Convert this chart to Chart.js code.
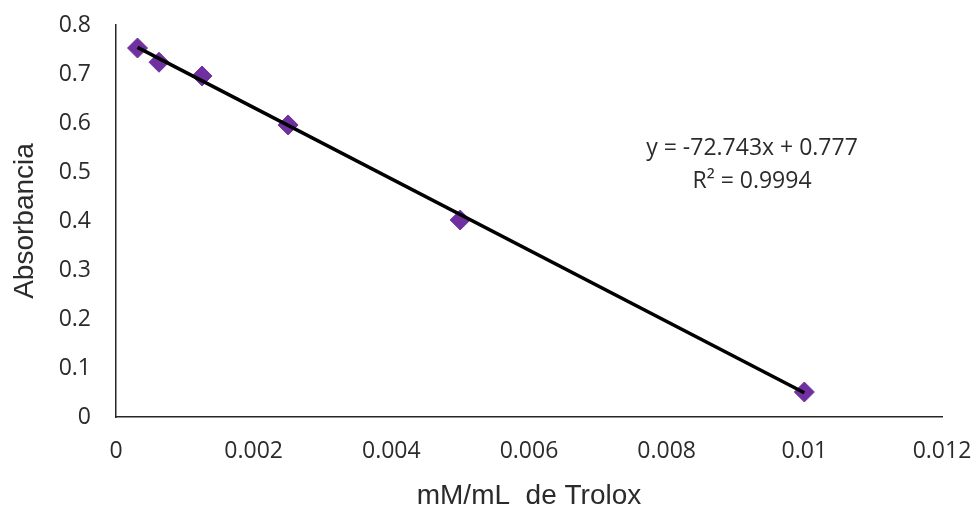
<!DOCTYPE html>
<html>
<head>
<meta charset="utf-8">
<script src="https://cdn.jsdelivr.net/npm/chart.js@4.4.1/dist/chart.umd.min.js"></script>
<style>
  html, body { margin: 0; padding: 0; background: #ffffff; }
  #wrap { width: 976px; height: 508px; position: relative; }
</style>
</head>
<body>
<div id="wrap"><canvas id="c" width="976" height="508"></canvas></div>
<script>
// Trolox concentration (mM/mL) and measured absorbance
const concentrations = [0.0003125, 0.000625, 0.00125, 0.0025, 0.005, 0.01];
const absorbances    = [0.753, 0.724, 0.696, 0.596, 0.402, 0.051];

// Axis tick labels
const xTickLabels = ['0', '0.002', '0.004', '0.006', '0.008', '0.01', '0.012'];
const yTickLabels = ['0', '0.1', '0.2', '0.3', '0.4', '0.5', '0.6', '0.7', '0.8'];

// Linear fit as reported on the chart
const slope = -72.743;
const intercept = 0.777;
const equationLines = ['y = -72.743x + 0.777', 'R\u00B2 = 0.9994'];

const xMin = concentrations[0];
const xMax = concentrations[concentrations.length - 1];
const trendPoints = [
  { x: xMin, y: slope * xMin + intercept },
  { x: xMax, y: slope * xMax + intercept }
];
const scatterPoints = concentrations.map((x, i) => ({ x, y: absorbances[i] }));

const FONT = "'Open Sans', 'Liberation Sans', sans-serif";
const TITLE_FONT = "'Liberation Sans', Arial, sans-serif";
const TEXT = '#2b2b2b';

const equationPlugin = {
  id: 'equationLabel',
  afterDatasetsDraw(chart) {
    const { ctx, chartArea } = chart;
    const cx = chartArea.left + chartArea.width * 0.77;
    const y0 = chartArea.top + chartArea.height * 0.314;
    const y1 = chartArea.top + chartArea.height * 0.40;
    ctx.save();
    ctx.fillStyle = TEXT;
    ctx.font = "23px " + FONT;
    ctx.textAlign = 'center';
    ctx.textBaseline = 'middle';
    ctx.fillText(equationLines[0], cx, y0);
    ctx.fillText(equationLines[1], cx, y1);
    ctx.restore();
  }
};

new Chart(document.getElementById('c'), {
  type: 'scatter',
  data: {
    datasets: [
      {
        type: 'line',
        data: trendPoints,
        borderColor: '#000000',
        borderWidth: 3.5,
        pointRadius: 0,
        fill: false,
        order: 0
      },
      {
        data: scatterPoints,
        pointStyle: 'rectRot',
        pointRadius: 10,
        pointHoverRadius: 10,
        backgroundColor: '#7030A0',
        borderColor: '#7030A0',
        borderWidth: 1,
        order: 1
      }
    ]
  },
  options: {
    responsive: false,
    animation: false,
    events: [],
    layout: { padding: { top: 25, right: 34, left: 0, bottom: 0 } },
    plugins: {
      legend: { display: false },
      tooltip: { enabled: false }
    },
    scales: {
      x: {
        type: 'linear',
        min: 0,
        max: 0.012,
        grid: { display: false, drawTicks: false },
        border: { display: true, color: '#262626', width: 1.5 },
        ticks: {
          stepSize: 0.002,
          padding: 21,
          color: TEXT,
          font: { family: FONT, size: 23 },
          maxRotation: 0,
          callback: (v) => xTickLabels[Math.round(v / 0.002)]
        },
        title: {
          display: true,
          text: 'mM/mL  de Trolox',
          color: TEXT,
          font: { family: TITLE_FONT, size: 28, lineHeight: 0.85 },
          padding: { top: 0, bottom: 0 }
        },
        afterFit(scale) {
          scale.height = 91;
          scale.paddingLeft = 0;
          scale.paddingRight = 0;
        }
      },
      y: {
        type: 'linear',
        min: 0,
        max: 0.8,
        grid: { display: false, drawTicks: false },
        border: { display: true, color: '#262626', width: 1.5 },
        ticks: {
          stepSize: 0.1,
          padding: 25,
          color: TEXT,
          font: { family: FONT, size: 23 },
          callback: (v) => yTickLabels[Math.round(v / 0.1)]
        },
        title: {
          display: true,
          text: 'Absorbancia',
          color: TEXT,
          font: { family: TITLE_FONT, size: 28 },
          padding: { top: 8, bottom: 0 }
        },
        afterFit(scale) {
          scale.width = 116;
          scale.paddingTop = 0;
          scale.paddingBottom = 0;
        }
      }
    }
  },
  plugins: [equationPlugin]
});
</script>
</body>
</html>
